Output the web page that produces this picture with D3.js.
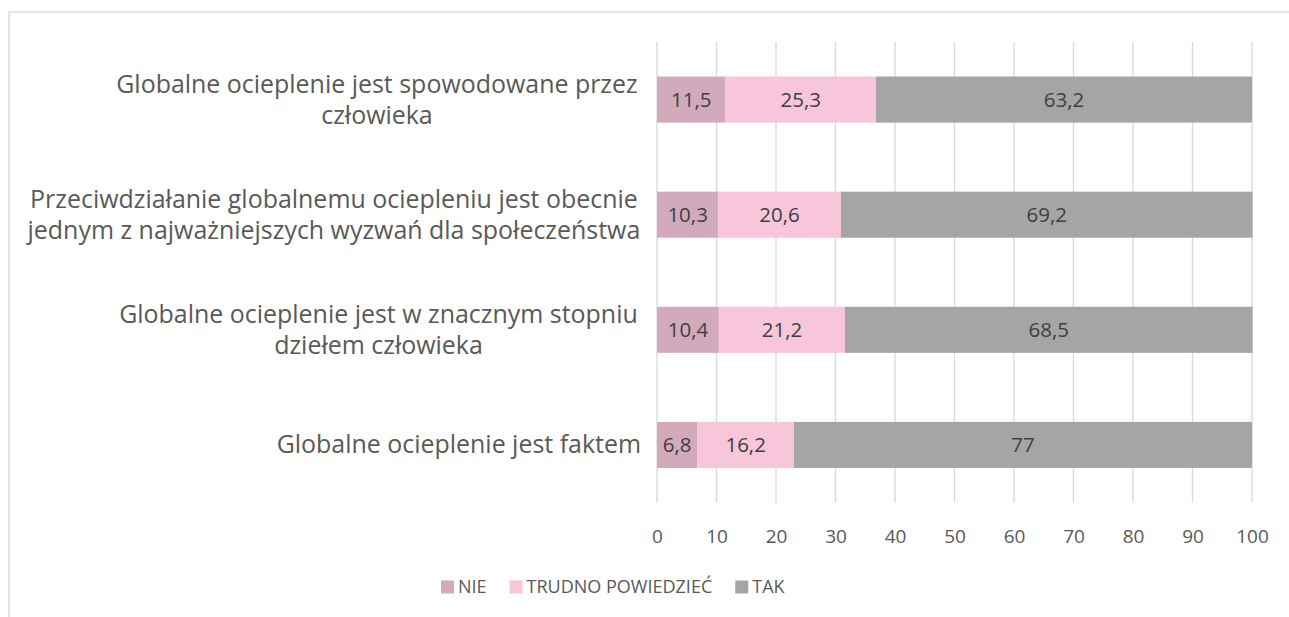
<!DOCTYPE html>
<html>
<head>
<meta charset="utf-8">
<script src="https://cdn.jsdelivr.net/npm/d3@7"></script>
<style>
  html, body { margin: 0; padding: 0; background: #fff; }
  svg { display: block; font-family: 'Open Sans', sans-serif; }
</style>
</head>
<body>
<svg id="chart" width="1289" height="617"></svg>
<script>
const categories = [
  ["Globalne ocieplenie jest spowodowane przez", "człowieka"],
  ["Przeciwdziałanie globalnemu ociepleniu jest obecnie", "jednym z najważniejszych wyzwań dla społeczeństwa"],
  ["Globalne ocieplenie jest w znacznym stopniu", "dziełem człowieka"],
  ["Globalne ocieplenie jest faktem"]
];
const seriesNames = ["NIE", "TRUDNO POWIEDZIEĆ", "TAK"];
const nieValues = [11.5, 10.3, 10.4, 6.8];
const trudnoValues = [25.3, 20.6, 21.2, 16.2];
const takValues = [63.2, 69.2, 68.5, 77];
const xTicks = [0, 10, 20, 30, 40, 50, 60, 70, 80, 90, 100];
const colors = ["#d3aabb", "#f7c6da", "#a5a5a5"];

const FAM = "'Open Sans', Lato, sans-serif";
const svg = d3.select("#chart");

// outer border
svg.append("rect").attr("x", 9).attr("y", 12).attr("width", 1320).attr("height", 700)
  .attr("fill", "#fff").attr("stroke", "#d9d9d9").attr("stroke-width", 1.5);

const catIdx = categories.map((d, i) => i);
const x = d3.scaleLinear().domain([0, 100]).range([657, 1252]);
const y = d3.scaleBand().domain(catIdx).range([42, 502.5]).paddingInner(0.6).paddingOuter(0.3);
const plotTop = 42, plotBottom = 502.5;

// gridlines
svg.append("g").selectAll("line").data(xTicks).join("line")
  .attr("x1", d => x(d)).attr("x2", d => x(d))
  .attr("y1", plotTop).attr("y2", plotBottom)
  .attr("stroke", "#d9d9d9").attr("stroke-width", 1.3);

// stack
const rows = catIdx.map(i => ({ i, NIE: nieValues[i], "TRUDNO POWIEDZIEĆ": trudnoValues[i], TAK: takValues[i] }));
const stacked = d3.stack().keys(seriesNames)(rows);

const fmt = v => String(v).replace(".", ",");

const layers = svg.append("g").selectAll("g").data(stacked).join("g")
  .attr("fill", (d, k) => colors[k]);
layers.selectAll("rect").data(d => d).join("rect")
  .attr("x", d => x(d[0]))
  .attr("width", d => x(d[1]) - x(d[0]))
  .attr("y", d => y(d.data.i))
  .attr("height", y.bandwidth());

// data labels
const lab = svg.append("g");
stacked.forEach(layer => {
  lab.selectAll(null).data(layer).join("text")
    .attr("x", d => (x(d[0]) + x(d[1])) / 2)
    .attr("y", d => y(d.data.i) + y.bandwidth() / 2)
    .attr("dy", "0.36em")
    .attr("text-anchor", "middle")
    .style("font-family", FAM)
    .style("font-size", "20.5px")
    .attr("fill", "#404040")
    .text(d => fmt(d.data[layer.key]));
});

// x axis labels
const xAxis = d3.axisBottom(x).tickValues(xTicks).tickSize(0).tickPadding(0).tickFormat(d => d);
const gx = svg.append("g").attr("transform", `translate(0, 536)`).call(xAxis);
gx.select(".domain").remove();
gx.selectAll("text").style("font-size", "19px").attr("fill", "#595959")
  .style("font-family", FAM).attr("dy", "0.36em").attr("y", 0);

// category labels
const rightEdge = 641;
const lineH = 31;
const catG = svg.append("g");
// fit font size so that the first label's first line is ~522px wide
const probe = catG.append("text").style("font-family", FAM).style("font-size", "20px").text(categories[0][0]);
const catFont = 20 * 522 / probe.node().getComputedTextLength();
probe.remove();
categories.forEach((lines, i) => {
  const cy = y(i) + y.bandwidth() / 2;
  const g = catG.append("g");
  const texts = lines.map((ln, k) => g.append("text")
    .style("font-family", FAM)
    .style("font-size", catFont + "px")
    .attr("fill", "#595959")
    .attr("text-anchor", "middle")
    .attr("dy", "0.34em")
    .attr("y", cy + (k - (lines.length - 1) / 2) * lineH)
    .text(ln));
  const tmp = g.append("text").style("font-family", FAM).style("font-size", catFont + "px").text("a a");
  const tmp2 = g.append("text").style("font-family", FAM).style("font-size", catFont + "px").text("aa");
  const spaceW = tmp.node().getComputedTextLength() - tmp2.node().getComputedTextLength();
  tmp.remove(); tmp2.remove();
  const widths = texts.map((t, k) => t.node().getComputedTextLength() + (k < lines.length - 1 ? spaceW : 0));
  const maxW = d3.max(widths);
  const cx = rightEdge - maxW / 2;
  texts.forEach(t => t.attr("x", cx));
});

// legend
const legend = svg.append("g").attr("transform", "translate(0, 587)");
let lx = 441;
seriesNames.forEach((name, k) => {
  legend.append("rect").attr("x", lx).attr("y", -6.5).attr("width", 13).attr("height", 13).attr("fill", colors[k]);
  const t = legend.append("text").attr("x", lx + 17).attr("y", 0).attr("dy", "0.36em")
    .style("font-family", FAM).style("font-size", "18px").attr("fill", "#595959").text(name);
  lx = lx + 17 + t.node().getComputedTextLength() + 23;
});
</script>
</body>
</html>
